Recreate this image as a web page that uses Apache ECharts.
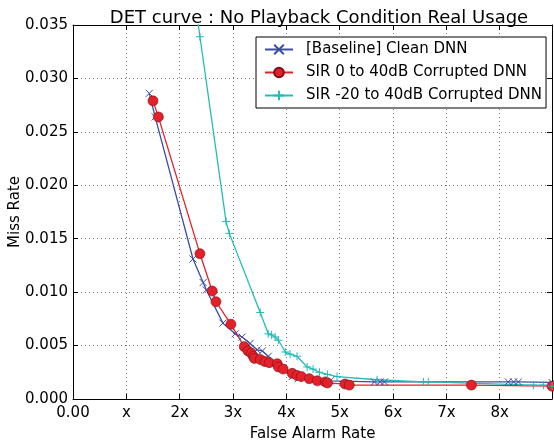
<!DOCTYPE html>
<html>
<head>
<meta charset="utf-8">
<script src="https://cdn.jsdelivr.net/npm/echarts@6/dist/echarts.min.js"></script>
<style>
html,body{margin:0;padding:0;background:#fff;}
#c{width:554px;height:441px;}
</style>
</head>
<body>
<div id="c"></div>
<script>
const titleText = 'DET curve : No Playback Condition Real Usage';
const seriesNames = ['[Baseline] Clean DNN', 'SIR 0 to 40dB Corrupted DNN', 'SIR -20 to 40dB Corrupted DNN'];
const xTickLabels = ['0.00', 'x', '2x', '3x', '4x', '5x', '6x', '7x', '8x'];
const yTickLabels = ['0.000', '0.005', '0.010', '0.015', '0.020', '0.025', '0.030', '0.035'];

const baselineX = [1.43, 1.54, 2.25, 2.44, 2.50, 2.81, 3.04, 3.17, 3.32, 3.45, 3.55, 3.66, 3.83, 3.94, 4.11, 4.22, 4.45, 4.82, 5.65, 5.76, 5.84, 8.16, 8.26, 8.35, 8.98];
const baselineY = [0.0286, 0.0264, 0.0131, 0.0109, 0.0102, 0.0071, 0.0061, 0.0058, 0.0052, 0.0046, 0.0045, 0.0040, 0.0033, 0.0029, 0.0021, 0.0019, 0.0018, 0.0017, 0.0016, 0.0016, 0.0016, 0.0016, 0.0016, 0.0016, 0.00155];

const sir0X = [1.50, 1.60, 2.38, 2.61, 2.68, 2.96, 3.21, 3.28, 3.34, 3.38, 3.40, 3.51, 3.60, 3.68, 3.83, 3.85, 3.94, 4.11, 4.20, 4.28, 4.43, 4.58, 4.73, 4.77, 5.10, 5.18, 7.47, 8.98];
const sir0Y = [0.0279, 0.0264, 0.0136, 0.0101, 0.0091, 0.0070, 0.0049, 0.0045, 0.0043, 0.0040, 0.0038, 0.0037, 0.0035, 0.0034, 0.0033, 0.0030, 0.0028, 0.0024, 0.0022, 0.0021, 0.0019, 0.0017, 0.0016, 0.0015, 0.0014, 0.0013, 0.0013, 0.0012];

const sir20X = [2.28, 2.38, 2.87, 2.93, 3.51, 3.66, 3.72, 3.79, 3.85, 3.98, 4.07, 4.20, 4.39, 4.50, 4.62, 4.77, 4.95, 5.70, 6.57, 6.66, 8.63, 8.82, 8.98];
const sir20Y = [0.0375, 0.0339, 0.0166, 0.0155, 0.0081, 0.0061, 0.0060, 0.0058, 0.0055, 0.0044, 0.0042, 0.0040, 0.0030, 0.0028, 0.0025, 0.0023, 0.0021, 0.0018, 0.0016, 0.0016, 0.0013, 0.0013, 0.0012];

const zip = (xs, ys) => xs.map((x, i) => [x, ys[i]]);
const FONT = 'DejaVu Sans';
const xPath = 'path://M0,0L10,10M10,0L0,10';
const plusPath = 'path://M5,0L5,10M0,5L10,5';

const chart = echarts.init(document.getElementById('c'), null, {renderer: 'canvas'});
const gridLine = {show: true, lineStyle: {color: '#777', type: [1, 3], width: 1}};
chart.setOption({
  animation: false,
  backgroundColor: '#fff',
  title: {
    text: titleText, left: 314, top: 4, textAlign: 'center',
    textStyle: {fontFamily: FONT, fontSize: 18, fontWeight: 'normal', color: '#000'}
  },
  legend: {
    orient: 'vertical', left: 256, top: 37,
    backgroundColor: '#fff', borderColor: '#000', borderWidth: 1,
    padding: [5, 4, 5, 8], itemGap: 8, itemWidth: 28, itemHeight: 12,
    textStyle: {fontFamily: FONT, fontSize: 15, color: '#000', padding: [0, 0, 0, 8]},
    data: seriesNames
  },
  grid: {left: 73, right: 2, top: 25, bottom: 42, containLabel: false, outerBoundsMode: 'none'},
  xAxis: [{
    type: 'value', min: 0, max: 8.98, interval: 1,
    name: 'False Alarm Rate', nameLocation: 'middle', nameGap: 28, nameMoveOverlap: false,
    nameTextStyle: {fontFamily: FONT, fontSize: 15, color: '#000'},
    axisLine: {onZero: false, lineStyle: {color: '#000', width: 1}},
    axisTick: {inside: true, length: 5, lineStyle: {color: '#000'}},
    axisLabel: {fontFamily: FONT, fontSize: 15, color: '#000', margin: 7,
      showMaxLabel: false,
      formatter: v => xTickLabels[Math.round(v)] !== undefined ? xTickLabels[Math.round(v)] : ''},
    splitLine: gridLine
  }, {
    type: 'value', position: 'top', min: 0, max: 8.98, interval: 1,
    axisLine: {onZero: false, lineStyle: {color: '#000', width: 1}},
    axisTick: {inside: true, length: 5, lineStyle: {color: '#000'}},
    axisLabel: {show: false}, splitLine: {show: false}
  }],
  yAxis: [{
    type: 'value', min: 0, max: 0.035, interval: 0.005,
    name: 'Miss Rate', nameLocation: 'middle', nameGap: 50, nameRotate: 90, nameMoveOverlap: false,
    nameTextStyle: {fontFamily: FONT, fontSize: 15, color: '#000'},
    axisLine: {show: true, onZero: false, lineStyle: {color: '#000', width: 1}},
    axisTick: {show: true, inside: true, length: 5, lineStyle: {color: '#000'}},
    axisLabel: {fontFamily: FONT, fontSize: 15, color: '#000', margin: 5,
      formatter: v => yTickLabels[Math.round(v / 0.005)]},
    splitLine: gridLine
  }, {
    type: 'value', position: 'right', min: 0, max: 0.035, interval: 0.005,
    axisLine: {show: true, onZero: false, lineStyle: {color: '#000', width: 1}},
    axisTick: {show: true, inside: true, length: 5, lineStyle: {color: '#000'}},
    axisLabel: {show: false}, splitLine: {show: false}
  }],
  series: [{
    name: seriesNames[0], type: 'line', data: zip(baselineX, baselineY),
    symbol: xPath, symbolSize: 7, showAllSymbol: true,
    lineStyle: {color: '#3a4ea3', width: 1.3},
    itemStyle: {color: 'rgba(0,0,0,0)', borderColor: '#3a4ea3', borderWidth: 1}
  }, {
    name: seriesNames[1], type: 'line', data: zip(sir0X, sir0Y),
    symbol: 'circle', symbolSize: 10, showAllSymbol: true,
    lineStyle: {color: '#e4202a', width: 1.3},
    itemStyle: {color: '#e4202a', borderColor: '#7a1010', borderWidth: 0.6}
  }, {
    name: seriesNames[2], type: 'line', data: zip(sir20X, sir20Y),
    symbol: plusPath, symbolSize: 8, showAllSymbol: true,
    lineStyle: {color: '#22bdb5', width: 1.3},
    itemStyle: {color: 'rgba(0,0,0,0)', borderColor: '#22bdb5', borderWidth: 1}
  }]
});
</script>
</body>
</html>
